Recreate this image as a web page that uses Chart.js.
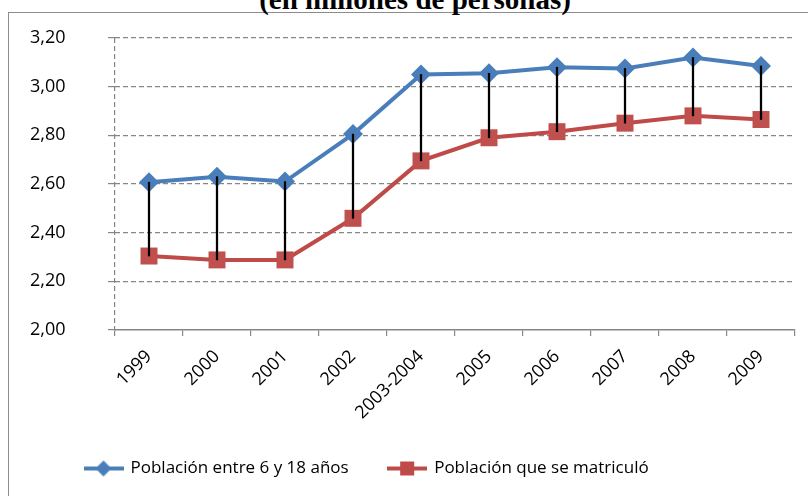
<!DOCTYPE html>
<html>
<head>
<meta charset="utf-8">
<script src="https://cdn.jsdelivr.net/npm/chart.js@4"></script>
<style>
  html, body { margin: 0; padding: 0; background: #fff; width: 808px; height: 496px; overflow: hidden; }
  #marco { position: absolute; left: 8px; top: 12px; width: 900px; height: 600px; border: 1.5px solid #8c8c8c; }
  #titulo { position: absolute; left: 0; width: 830px; top: -15px; text-align: center;
            font: bold 29px "Liberation Serif", serif; line-height: 29px; color: #000; white-space: nowrap; }
  #lienzo { position: absolute; left: 0; top: 0; }
</style>
</head>
<body>
<div id="marco"></div>
<div id="titulo">(en millones de personas)</div>
<canvas id="lienzo" width="808" height="496"></canvas>
<script>
// Datos (millones de personas)
const categorias = ['1999', '2000', '2001', '2002', '2003-2004', '2005', '2006', '2007', '2008', '2009'];
const poblacion6a18 = [2.607, 2.63, 2.61, 2.805, 3.05, 3.055, 3.08, 3.075, 3.12, 3.085];
const matriculados = [2.304, 2.288, 2.288, 2.459, 2.695, 2.79, 2.815, 2.85, 2.88, 2.865];
const etiquetasSeries = ['Población entre 6 y 18 años', 'Población que se matriculó'];
const ejeY = { min: 2.0, max: 3.2, paso: 0.2 };

const AZUL = '#4A7EBB';
const ROJO = '#BE4B48';
const GRIS = '#868686';
const fuenteEjes = { family: '"Open Sans", sans-serif', size: 18 };
const fuenteLeyenda = { family: '"Open Sans", sans-serif', size: 17 };

// Icono de leyenda estilo Excel: línea con marcador
function iconoLeyenda(color, estilo) {
  const c = document.createElement('canvas');
  c.width = 40; c.height = 18;
  const ctx = c.getContext('2d');
  ctx.strokeStyle = color; ctx.lineWidth = 4;
  ctx.beginPath(); ctx.moveTo(0, 9); ctx.lineTo(40, 9); ctx.stroke();
  ctx.fillStyle = color;
  ctx.beginPath();
  if (estilo === 'rombo') {
    ctx.moveTo(20, 1); ctx.lineTo(28, 9); ctx.lineTo(20, 17); ctx.lineTo(12, 9);
  } else {
    ctx.rect(13, 2, 14, 14);
  }
  ctx.fill();
  return c;
}
const iconos = { 1: iconoLeyenda(AZUL, 'rombo'), 2: iconoLeyenda(ROJO, 'cuadro') };

new Chart(document.getElementById('lienzo'), {
  type: 'line',
  data: {
    labels: categorias,
    datasets: [
      {
        type: 'bar',
        label: 'diferencia',
        data: categorias.map((_, i) => [matriculados[i], poblacion6a18[i]]),
        backgroundColor: '#000',
        barThickness: 1.6,
        order: 0,
      },
      {
        label: etiquetasSeries[0],
        data: poblacion6a18,
        borderColor: AZUL,
        backgroundColor: AZUL,
        borderWidth: 4,
        pointStyle: 'rectRot',
        pointRadius: 10,
        pointBorderWidth: 0,
        tension: 0,
        order: 1,
      },
      {
        label: etiquetasSeries[1],
        data: matriculados,
        borderColor: ROJO,
        backgroundColor: '#C0504D',
        borderWidth: 4,
        pointStyle: 'rect',
        pointRadius: 12,
        pointBorderWidth: 0,
        tension: 0,
        order: 2,
      },
    ],
  },
  options: {
    responsive: false,
    animation: false,
    layout: { padding: { left: 45, right: 13, top: 38, bottom: 9 } },
    plugins: {
      tooltip: { enabled: false },
      legend: {
        position: 'bottom',
        align: 'start',
        labels: {
          color: '#000',
          font: fuenteLeyenda,
          usePointStyle: true,
          pointStyleWidth: 37,
          padding: 40,
          generateLabels: (chart) => Chart.defaults.plugins.legend.labels.generateLabels(chart)
            .filter((l) => l.datasetIndex > 0)
            .map((l) => ({ ...l, pointStyle: iconos[l.datasetIndex] })),
        },
      },
    },
    scales: {
      x: {
        offset: true,
        grid: {
          offset: true,
          drawOnChartArea: true,
          color: (ctx) => (ctx.index === 0 ? GRIS : 'transparent'),
          tickColor: GRIS,
          tickLength: 6,
          lineWidth: 1.2,
        },
        border: { color: GRIS, width: 1.5, dash: [5, 3] },
        ticks: { color: '#000', font: fuenteEjes, minRotation: 45, maxRotation: 45, padding: 10 },
        afterFit: (s) => { s.height = 90; },
      },
      y: {
        min: ejeY.min,
        max: ejeY.max,
        grid: {
          color: (ctx) => (ctx.tick && ctx.tick.value === ejeY.min ? 'transparent' : GRIS),
          tickColor: GRIS,
          tickLength: 7,
          lineWidth: 1.2,
        },
        border: { display: false, dash: [5, 3] },
        // etiquetas alineadas a la izquierda a x=30 (espejo con relleno negativo
        // para que no las recorte el área del eje)
        ticks: {
          stepSize: ejeY.paso,
          color: '#000',
          font: fuenteEjes,
          mirror: true,
          padding: -85,
          callback: (v) => v.toFixed(2).replace('.', ','),
        },
        afterFit: (s) => { s.width = 70; s.paddingTop = 12; s.paddingBottom = 12; },
      },
    },
  },
});
</script>
</body>
</html>
